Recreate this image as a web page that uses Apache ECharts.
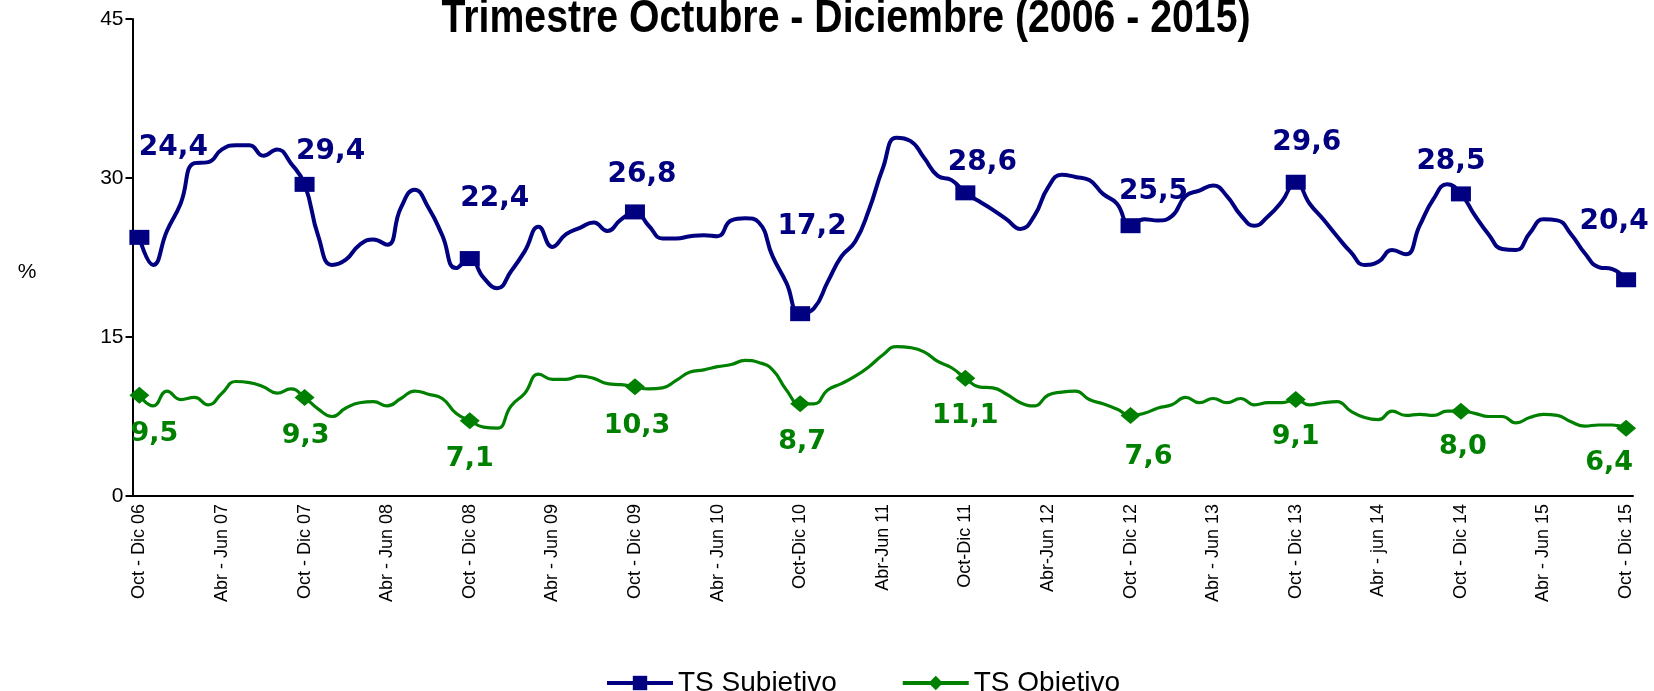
<!DOCTYPE html>
<html>
<head>
<meta charset="utf-8">
<title>TS Subjetivo / TS Objetivo</title>
<script src="https://cdn.jsdelivr.net/npm/echarts@6/dist/echarts.min.js"></script>
<style>
html,body{margin:0;padding:0;background:#fff;}
#chartMain{width:1654px;height:691px;}
</style>
</head>
<body>
<div id="chartMain"></div>
<script>
// etiquetas visibles del eje X (una cada 6 trimestres moviles)
var tickLabels = ['Oct - Dic 06','Abr - Jun 07','Oct - Dic 07','Abr - Jun 08','Oct - Dic 08','Abr - Jun 09',
	'Oct - Dic 09','Abr - Jun 10','Oct-Dic 10','Abr-Jun 11','Oct-Dic 11','Abr-Jun 12','Oct - Dic 12',
	'Abr - Jun 13','Oct - Dic 13','Abr - jun 14','Oct - Dic 14','Abr - Jun 15','Oct - Dic 15'];
var monthNames = ['Ene','Feb','Mar','Abr','May','Jun','Jul','Ago','Sep','Oct','Nov','Dic'];

// TS Subjetivo (%), trimestres moviles Oct-Dic 06 ... Oct-Dic 15
var subjetivo = [
	24.4, 21.8, 25.0, 27.6, 31.4, 31.5, 32.7, 33.1, 33.1, 32.1, 32.7, 31.4,
	29.4, 24.5, 21.8, 22.3, 23.7, 24.2, 23.7, 27.2, 28.9, 27.2, 24.6, 21.5,
	22.4, 20.6, 19.6, 21.2, 23.1, 25.4, 23.5, 24.7, 25.3, 25.8, 25.0, 26.1,
	26.8, 25.5, 24.3, 24.3, 24.5, 24.6, 24.5, 26.0, 26.2, 25.8, 22.6, 20.1,
	17.2, 17.7, 20.2, 22.6, 24.0, 27.0, 30.9, 33.8, 33.5, 31.9, 30.2, 29.8,
	28.6, 27.8, 27.0, 26.1, 25.2, 26.4, 29.1, 30.3, 30.1, 29.8, 28.5, 27.6,
	25.5, 26.1, 26.0, 26.4, 28.3, 28.8, 29.3, 28.3, 26.5, 25.5, 26.4, 27.8,
	29.6, 27.6, 26.1, 24.5, 23.0, 21.8, 22.1, 23.2, 22.8, 25.5, 28.0, 29.4,
	28.5, 26.5, 24.7, 23.3, 23.2, 24.8, 26.1, 26.0, 24.7, 22.9, 21.6, 21.4,
	20.4
];

// TS Objetivo (%)
var objetivo = [
	9.5, 8.5, 9.9, 9.1, 9.3, 8.6, 9.7, 10.8, 10.7, 10.3, 9.7, 10.1,
	9.3, 8.2, 7.5, 8.3, 8.8, 8.9, 8.5, 9.2, 9.9, 9.6, 9.2, 7.8,
	7.1, 6.5, 6.4, 8.5, 9.7, 11.5, 11.0, 11.0, 11.3, 11.1, 10.6, 10.5,
	10.3, 10.1, 10.2, 10.9, 11.7, 11.9, 12.2, 12.4, 12.8, 12.6, 11.9, 10.0,
	8.7, 8.7, 10.0, 10.6, 11.3, 12.2, 13.3, 14.1, 14.0, 13.6, 12.7, 12.1,
	11.1, 10.3, 10.2, 9.6, 8.8, 8.5, 9.5, 9.8, 9.9, 9.1, 8.7, 8.2,
	7.6, 7.8, 8.3, 8.6, 9.3, 8.8, 9.2, 8.8, 9.2, 8.6, 8.8, 8.8,
	9.1, 8.6, 8.8, 8.9, 8.0, 7.4, 7.2, 8.0, 7.6, 7.7, 7.6, 8.0,
	8.0, 7.8, 7.5, 7.5, 6.9, 7.4, 7.7, 7.6, 7.0, 6.6, 6.7, 6.7,
	6.4
];

// desplazamiento de las etiquetas de valor (solo en los Oct-Dic)
var subjLabelOffset = [[34,-90],[26,-33],[25,-60],[7,-37],[12,-87],[17,-30],[23,-34],[11,-40],[-10,-32],[-12,-58]];
var objLabelOffset = [[15,39],[1,39],[0,38],[2,39],[2,38],[0,38],[18,42],[0,37],[2,36],[-17,35]];

var categories = [];
for (var i = 0; i < subjetivo.length; i++) {
	if (i % 6 == 0) {
		categories.push(tickLabels[i / 6]);
	} else {
		var m1 = (9 + i) % 12, m2 = (11 + i) % 12;
		var yy = 6 + Math.floor((11 + i) / 12);
		categories.push(monthNames[m1] + '-' + monthNames[m2] + ' ' + (yy < 10 ? '0' + yy : yy));
	}
}

function fmt(v){
	return v.toFixed(1).replace('.', ',');
}

function buildData(values, offsets){
	var out = [];
	for (var i = 0; i < values.length; i++) {
		if (i % 12 == 0) {
			out.push({
				value: values[i],
				label: { show: true, offset: offsets[i / 12] }
			});
		} else {
			out.push({ value: values[i], symbol: 'none' });
		}
	}
	return out;
}

var chartMain = echarts.init(document.getElementById('chartMain'));
var chartMain_option = {
	animation: false,
	backgroundColor: '#ffffff',
	graphic: [
		{
			type: 'text',
			x: 846,
			y: 19,
			scaleX: 0.853,
			style: {
				text: 'Trimestre Octubre - Diciembre (2006 - 2015)',
				font: 'bold 46px "Liberation Sans", Arial, sans-serif',
				fill: '#000',
				align: 'center',
				verticalAlign: 'middle'
			}
		},
		{
			type: 'text',
			x: 27,
			y: 272,
			style: {
				text: '%',
				font: '21px "Liberation Sans", Arial, sans-serif',
				fill: '#000',
				align: 'center',
				verticalAlign: 'middle'
			}
		}
	],
	legend: {
		left: 600,
		top: 664,
		itemWidth: 66,
		itemHeight: 18,
		itemGap: 64,
		lineStyle: { width: 4 },
		textStyle: {
			fontFamily: '"Liberation Sans", Arial, sans-serif',
			fontSize: 28,
			color: '#000'
		},
		data: ['TS Subjetivo', 'TS Objetivo']
	},
	grid: {
		left: 132.5,
		right: 21,
		top: 19,
		bottom: 195
	},
	xAxis: {
		type: 'category',
		boundaryGap: true,
		data: categories,
		axisLine: { lineStyle: { color: '#000', width: 2 } },
		axisTick: { interval: 7, length: 7, lineStyle: { color: '#000', width: 2 } },
		axisLabel: {
			interval: 5,
			rotate: 90,
			margin: 8,
			color: '#000',
			fontSize: 18,
			fontFamily: '"Liberation Sans", Arial, sans-serif'
		},
		splitLine: { show: false }
	},
	yAxis: {
		type: 'value',
		min: 0,
		max: 45,
		interval: 15,
		axisLine: { show: true, lineStyle: { color: '#000', width: 2 } },
		axisTick: { show: true, length: 7, lineStyle: { color: '#000', width: 2 } },
		axisLabel: {
			margin: 9,
			color: '#000',
			fontSize: 21,
			fontFamily: '"Liberation Sans", Arial, sans-serif'
		},
		splitLine: { show: false }
	},
	series: [
		{
			name: 'TS Subjetivo',
			type: 'line',
			smooth: 0.5,
			symbol: 'rect',
			symbolSize: [20, 15],
			color: '#000080',
			lineStyle: { width: 4, color: '#000080' },
			itemStyle: { color: '#000080' },
			label: {
				show: false,
				position: 'inside',
				formatter: function(p){ return fmt(p.value); },
				color: '#000080',
				fontWeight: 'bold',
				fontSize: 28,
				fontFamily: '"DejaVu Sans", Verdana, sans-serif'
			},
			data: buildData(subjetivo, subjLabelOffset)
		},
		{
			name: 'TS Objetivo',
			type: 'line',
			smooth: 0.5,
			symbol: 'diamond',
			symbolSize: [20, 17],
			color: '#008000',
			lineStyle: { width: 3.2, color: '#008000' },
			itemStyle: { color: '#008000' },
			label: {
				show: false,
				position: 'inside',
				formatter: function(p){ return fmt(p.value); },
				color: '#008000',
				fontWeight: 'bold',
				fontSize: 27,
				fontFamily: '"DejaVu Sans", Verdana, sans-serif'
			},
			data: buildData(objetivo, objLabelOffset)
		}
	]
};
chartMain.setOption(chartMain_option);
</script>
</body>
</html>
